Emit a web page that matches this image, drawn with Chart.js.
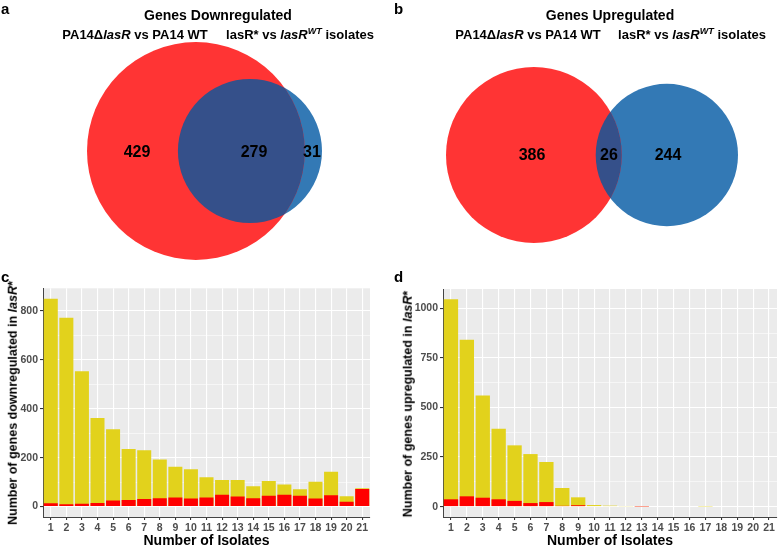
<!DOCTYPE html>
<html>
<head>
<meta charset="utf-8">
<script src="https://cdn.jsdelivr.net/npm/chart.js"></script>
<style>
  body { margin: 0; width: 778px; height: 548px; background: #fff; position: relative; overflow: hidden;
         font-family: "Liberation Sans", Arial, sans-serif; font-weight: bold; color: #000; }
  .box { position: absolute; }
  .t { position: absolute; white-space: nowrap; transform: translate(-50%, -50%); line-height: 1; }
  .letter { position: absolute; font-size: 15px; line-height: 1; }
  .title { font-size: 14px; }
  .sub { font-size: 13px; }
  .num { font-size: 16px; }
  .yt { font-size: 12.5px; transform: translate(-50%, -50%) rotate(-90deg); }
  sup { font-size: 0.7em; vertical-align: 0.45em; line-height: 0; }
</style>
</head>
<body>
<div class="box" style="left:0;top:0;width:389px;height:275px"><canvas id="vennDown"></canvas></div>
<div class="box" style="left:389px;top:0;width:389px;height:275px"><canvas id="vennUp"></canvas></div>
<div class="box" style="left:0;top:280px;width:389px;height:268px"><canvas id="barDown"></canvas></div>
<div class="box" style="left:389px;top:280px;width:389px;height:268px"><canvas id="barUp"></canvas></div>

<div class="letter" style="left:1px;top:1px">a</div>
<div class="letter" style="left:394px;top:1px">b</div>
<div class="letter" style="left:1px;top:269px">c</div>
<div class="letter" style="left:394px;top:269px">d</div>

<div class="t title" style="left:218px;top:15px">Genes Downregulated</div>
<div class="t sub" style="left:135px;top:34px">PA14Δ<i>lasR</i> vs PA14 WT</div>
<div class="t sub" style="left:300px;top:34px">lasR* vs <i>lasR<sup>WT</sup></i> isolates</div>
<div class="t title" style="left:610px;top:15px">Genes Upregulated</div>
<div class="t sub" style="left:528px;top:34px">PA14Δ<i>lasR</i> vs PA14 WT</div>
<div class="t sub" style="left:692px;top:34px">lasR* vs <i>lasR<sup>WT</sup></i> isolates</div>

<div class="t yt" style="left:13px;top:403px">Number of genes downregulated in <i>lasR</i>*</div>
<div class="t yt" style="left:408px;top:404px">Number of genes upregulated in <i>lasR</i>*</div>

<script>
// Venn counts: [only PA14ΔlasR, both, only lasR* isolates]
const vennDown = [429, 279, 31];
const vennUp = [386, 26, 244];

// bar panels
const isolates = ['1', '2', '3', '4', '5', '6', '7', '8', '9', '10', '11', '12', '13', '14', '15', '16', '17', '18', '19', '20', '21'];
const downTotal = [850, 772, 553, 362, 316, 236, 230, 193, 163, 153, 120, 109, 109, 83, 105, 90, 71, 102, 142, 42, 75];
const downShared = [14, 10, 12, 15, 25, 27, 31, 34, 37, 33, 37, 48, 41, 34, 44, 48, 44, 33, 46, 20, 72];
const upTotal = [1045, 842, 560, 393, 309, 265, 225, 94, 47, 8, 5, 2, 2, 0, 0, 0, 1, 0, 0, 0, 0];
const upShared = [37, 52, 45, 37, 29, 18, 23, 4, 7, 0, 0, 0, 1, 0, 0, 0, 0, 0, 0, 0, 0];
const downTicks = [0, 200, 400, 600, 800];
const upTicks = [0, 250, 500, 750, 1000];

Chart.defaults.font.family = '"Liberation Sans", Arial, sans-serif';

function lensArea(r1, r2, d) {
  if (d >= r1 + r2) return 0;
  if (d <= Math.abs(r1 - r2)) return Math.PI * Math.min(r1, r2) ** 2;
  const a1 = Math.acos((d * d + r1 * r1 - r2 * r2) / (2 * d * r1));
  const a2 = Math.acos((d * d + r2 * r2 - r1 * r1) / (2 * d * r2));
  const k = Math.sqrt((-d + r1 + r2) * (d + r1 - r2) * (d - r1 + r2) * (d + r1 + r2));
  return r1 * r1 * a1 + r2 * r2 * a2 - k / 2;
}

// paints the shared part of the two circles
const lensPlugin = {
  id: 'lens',
  afterDatasetsDraw(chart) {
    const a = chart.getDatasetMeta(0).data[0];
    const b = chart.getDatasetMeta(1).data[0];
    const ctx = chart.ctx;
    ctx.save();
    ctx.beginPath();
    ctx.arc(a.x, a.y, a.options.radius, 0, Math.PI * 2);
    ctx.clip();
    ctx.beginPath();
    ctx.arc(b.x, b.y, b.options.radius, 0, Math.PI * 2);
    ctx.fillStyle = '#35508A';
    ctx.fill();
    ctx.restore();
  }
};

function vennChart(id, counts, fit, labelPos) {
  const [onlyA, both, onlyB] = counts;
  const r1 = Math.sqrt((onlyA + both) / Math.PI);
  const r2 = Math.sqrt((both + onlyB) / Math.PI);
  let lo = Math.abs(r1 - r2), hi = r1 + r2;
  for (let i = 0; i < 60; i++) {
    const m = (lo + hi) / 2;
    if (lensArea(r1, r2, m) > both) lo = m; else hi = m;
  }
  const d = (lo + hi) / 2;
  const canvas = document.getElementById(id);
  const W = canvas.parentNode.clientWidth, H = canvas.parentNode.clientHeight;
  const s = (fit.right - fit.left) / (r1 + d + r2);
  const xMin = -r1 - fit.left / s;
  const radius = (ctx) => {
    const sc = ctx.chart.scales.x;
    return Math.abs(sc.getPixelForValue(ctx.raw.r) - sc.getPixelForValue(0));
  };
  new Chart(canvas, {
    type: 'scatter',
    data: {
      datasets: [
        { data: [{ x: 0, y: 0, r: r1 }], backgroundColor: '#FF3434', pointRadius: radius, pointBorderWidth: 0, clip: false },
        { data: [{ x: d, y: 0, r: r2 }], backgroundColor: '#3379B5', pointRadius: radius, pointBorderWidth: 0, clip: false }
      ]
    },
    options: {
      animation: false, responsive: true, maintainAspectRatio: false, events: [],
      layout: { padding: 0 },
      plugins: { legend: { display: false }, tooltip: { enabled: false } },
      scales: {
        x: { display: false, min: xMin, max: xMin + W / s },
        y: { display: false, min: (fit.cy - H) / s, max: fit.cy / s }
      }
    },
    plugins: [lensPlugin]
  });
  counts.forEach((c, i) => {
    const el = document.createElement('div');
    el.className = 't num';
    el.style.left = labelPos[i][0] + 'px';
    el.style.top = labelPos[i][1] + 'px';
    el.textContent = c;
    document.body.appendChild(el);
  });
}

const panelBg = {
  id: 'panelBg',
  beforeDraw(chart) {
    const { ctx, chartArea: a } = chart;
    ctx.save();
    ctx.fillStyle = '#EBEBEB';
    ctx.fillRect(a.left, a.top, a.right - a.left, a.bottom - a.top);
    ctx.restore();
  }
};

function barChart(id, total, shared, major, pad, yWidth) {
  const top = Math.max(...total);
  const minor = major.slice(1).map((v, i) => (v + major[i]) / 2);
  const all = major.concat(minor).sort((a, b) => a - b);
  const isMajor = (v) => major.includes(v);
  new Chart(document.getElementById(id), {
    type: 'bar',
    data: {
      labels: isolates,
      datasets: [
        { data: shared, backgroundColor: '#FF0000', grouped: false, barPercentage: 0.9, categoryPercentage: 1 },
        { data: total, backgroundColor: '#E2D21C', grouped: false, barPercentage: 0.9, categoryPercentage: 1 }
      ]
    },
    options: {
      animation: false, responsive: true, maintainAspectRatio: false, events: [],
      layout: { padding: pad },
      plugins: { legend: { display: false }, tooltip: { enabled: false } },
      scales: {
        x: {
          offset: true,
          grid: { offset: false, color: '#FFFFFF', lineWidth: 1.1, tickLength: 3, tickColor: '#333333' },
          border: { display: true, color: '#444444', width: 1 },
          ticks: { autoSkip: false, maxRotation: 0, padding: 2, color: '#4D4D4D', font: { size: 10.5, weight: 'bold' } },
          title: { display: true, text: 'Number of Isolates', color: '#000', padding: 0,
                   font: { size: 14, weight: 'bold', lineHeight: 1 } },
          afterFit: (scale) => { scale.height = 31; }
        },
        y: {
          min: -0.05 * top, max: 1.05 * top,
          afterBuildTicks: (scale) => { scale.ticks = all.map((v) => ({ value: v })); },
          grid: {
            color: '#FFFFFF',
            lineWidth: (ctx) => (isMajor(ctx.tick.value) ? 1.1 : 0.55),
            tickLength: 3,
            tickColor: (ctx) => (isMajor(ctx.tick.value) ? '#333333' : 'rgba(0,0,0,0)')
          },
          border: { display: true, color: '#444444', width: 1 },
          ticks: {
            padding: 2, color: '#4D4D4D', font: { size: 10.5, weight: 'bold' },
            callback: (v) => (isMajor(v) ? String(v) : '')
          },
          afterFit: (scale) => { scale.width = yWidth; }
        }
      }
    },
    plugins: [panelBg]
  });
}

vennChart('vennDown', vennDown, { left: 87, right: 322, cy: 151 }, [[137, 152], [254, 152], [312, 152]]);
vennChart('vennUp', vennUp, { left: 57, right: 349, cy: 155 }, [[532, 155], [609, 155], [668, 155]]);
barChart('barDown', downTotal, downShared, downTicks, { left: 20, right: 19, top: 8, bottom: 0 }, 23);
barChart('barUp', upTotal, upShared, upTicks, { left: 22, right: 1, top: 9, bottom: 0 }, 32);
</script>
</body>
</html>
